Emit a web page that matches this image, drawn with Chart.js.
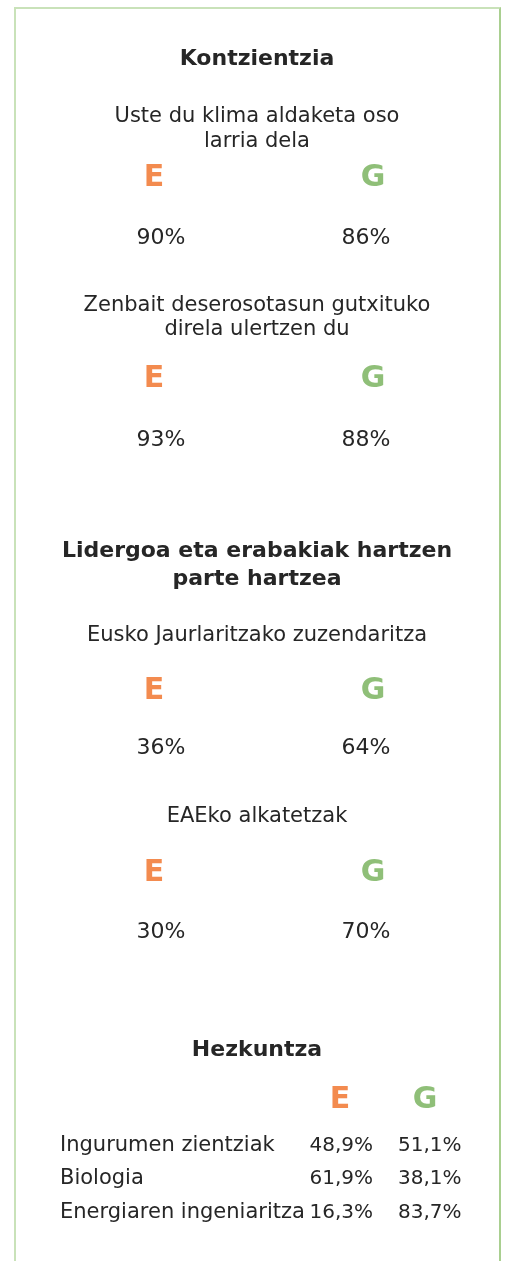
<!DOCTYPE html>
<html>
<head>
<meta charset="utf-8">
<title>Kontzientzia, lidergoa eta hezkuntza</title>
<script src="https://cdn.jsdelivr.net/npm/chart.js@4/dist/chart.umd.min.js"></script>
<style>
    html, body { margin: 0; padding: 0; background: #fff; }
    #wrap { position: relative; width: 505px; height: 1261px; overflow: hidden; }
    #frame {
        position: absolute; left: 14px; top: 7px; width: 483px; height: 1300px;
        border-top: 2px solid #c9e2b9; border-left: 2px solid #c9e2b9; border-right: 2px solid #a9cf90;
    }
    canvas { position: absolute; left: 0; top: 0; }
</style>
</head>
<body>
<div id="wrap">
    <div id="frame"></div>
    <canvas id="chart" width="505" height="1261"></canvas>
</div>
<script>
// Data (E = emakumeak, G = gizonak)
const sectionTitles = [['Kontzientzia'], ['Lidergoa eta erabakiak hartzen', 'parte hartzea'], ['Hezkuntza']];
const questions = [
    ['Uste du klima aldaketa oso', 'larria dela'],
    ['Zenbait deserosotasun gutxituko', 'direla ulertzen du'],
    ['Eusko Jaurlaritzako zuzendaritza'],
    ['EAEko alkatetzak']
];
const seriesLabels = ['E', 'G'];
const womenShare = [90, 93, 36, 30];
const menShare = [86, 88, 64, 70];
const degrees = ['Ingurumen zientziak', 'Biologia', 'Energiaren ingeniaritza'];
const degreeWomen = [48.9, 61.9, 16.3];
const degreeMen = [51.1, 38.1, 83.7];

// Layout: baselines (page pixels) for each block
const titleBaselines = [[65], [557, 585], [1056]];
const questionBaselines = [[122, 147], [311, 335], [641], [822]];
const letterBaselines = [186, 387, 699, 881];
const valueBaselines = [244, 446, 754, 938];
const pairColumns = { letterE: 154, letterG: 373, valueE: 161, valueG: 366 };
const tableColumns = { label: 60, letterE: 340, letterG: 425, valueE: 373, valueG: 398 };
const tableLetterBaseline = 1108;
const tableRowBaselines = [1151, 1184, 1218];

const FONT = '"DejaVu Sans", sans-serif';
const TEXT = '#262626';
const COLOR_E = '#f38b4f';
const COLOR_G = '#8fbf78';

function pct(v) {
    return Number.isInteger(v) ? v + '%' : v.toFixed(1).replace('.', ',') + '%';
}

const datasets = [
    { label: 'E', align: 'center', size: 22, data: womenShare.map((v, i) => ({ x: pairColumns.valueE, y: valueBaselines[i], v })) },
    { label: 'G', align: 'center', size: 22, data: menShare.map((v, i) => ({ x: pairColumns.valueG, y: valueBaselines[i], v })) },
    { label: 'E', align: 'right', size: 20, data: degreeWomen.map((v, i) => ({ x: tableColumns.valueE, y: tableRowBaselines[i], v })) },
    { label: 'G', align: 'left', size: 20, data: degreeMen.map((v, i) => ({ x: tableColumns.valueG, y: tableRowBaselines[i], v })) }
].map(ds => Object.assign(ds, { pointRadius: 0, showLine: false }));

const textPlugin = {
    id: 'infoText',
    afterDraw(chart) {
        const ctx = chart.ctx;
        const sx = chart.scales.x, sy = chart.scales.y;
        const mid = sx.getPixelForValue(257);
        const put = (text, x, y, font, color, align) => {
            ctx.font = font;
            ctx.fillStyle = color;
            ctx.textAlign = align || 'center';
            ctx.textBaseline = 'alphabetic';
            ctx.fillText(text, x, y);
        };
        ctx.save();

        // section titles
        sectionTitles.forEach((lines, i) => {
            lines.forEach((line, j) => put(line, mid, sy.getPixelForValue(titleBaselines[i][j]), 'bold 22px ' + FONT, TEXT));
        });

        // question texts and E / G headers
        questions.forEach((lines, i) => {
            lines.forEach((line, j) => put(line, mid, sy.getPixelForValue(questionBaselines[i][j]), '21px ' + FONT, TEXT));
            const ly = sy.getPixelForValue(letterBaselines[i]);
            put(seriesLabels[0], sx.getPixelForValue(pairColumns.letterE), ly, 'bold 30px ' + FONT, COLOR_E);
            put(seriesLabels[1], sx.getPixelForValue(pairColumns.letterG), ly, 'bold 30px ' + FONT, COLOR_G);
        });

        // table headers and row labels
        const ty = sy.getPixelForValue(tableLetterBaseline);
        put(seriesLabels[0], sx.getPixelForValue(tableColumns.letterE), ty, 'bold 30px ' + FONT, COLOR_E);
        put(seriesLabels[1], sx.getPixelForValue(tableColumns.letterG), ty, 'bold 30px ' + FONT, COLOR_G);
        degrees.forEach((d, i) => put(d, sx.getPixelForValue(tableColumns.label), sy.getPixelForValue(tableRowBaselines[i]), '21px ' + FONT, TEXT, 'left'));

        // values at each point's position
        chart.data.datasets.forEach((ds, di) => {
            const meta = chart.getDatasetMeta(di);
            meta.data.forEach((pt, i) => {
                put(pct(ds.data[i].v), pt.x, pt.y, ds.size + 'px ' + FONT, TEXT, ds.align);
            });
        });
        ctx.restore();
    }
};

new Chart(document.getElementById('chart'), {
    type: 'scatter',
    data: { datasets },
    options: {
        responsive: false,
        animation: false,
        layout: { padding: 0 },
        plugins: { legend: { display: false }, tooltip: { enabled: false } },
        scales: {
            x: { type: 'linear', min: 0, max: 505, display: false },
            y: { type: 'linear', min: 0, max: 1261, reverse: true, display: false }
        }
    },
    plugins: [textPlugin]
});
</script>
</body>
</html>
